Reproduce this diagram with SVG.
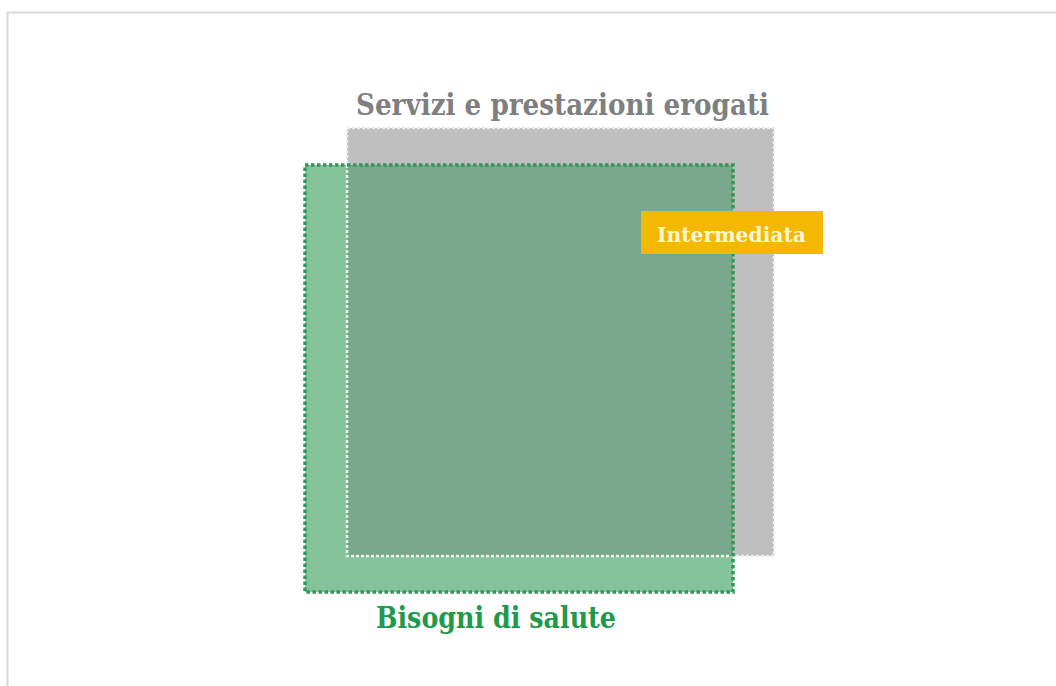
<svg xmlns="http://www.w3.org/2000/svg" width="1056" height="686" viewBox="0 0 1056 686">
<style>
.t{font-family:"DejaVu Serif","Liberation Serif",serif;font-weight:bold}
</style>
<rect x="0" y="0" width="1056" height="686" fill="#ffffff"/>
<path d="M7.5,686 V12.5 H1056" fill="none" stroke="#d9d9d9" stroke-width="2"/>
<g id="servizi">
<rect x="347" y="128" width="427" height="428" fill="#bfbfbf"/>
<text class="t" x="356" y="115" font-size="30" fill="#7f7f7f" textLength="413" lengthAdjust="spacingAndGlyphs">Servizi e prestazioni erogati</text>
</g>
<g id="bisogni">
<rect x="305" y="165" width="428" height="427" fill="#85c49b"/>
<rect x="347" y="165" width="386" height="391" fill="#7aa88c"/>
<text class="t" x="376" y="628" font-size="30" fill="#1f9a4c" textLength="240" lengthAdjust="spacingAndGlyphs">Bisogni di salute</text>
</g>
<g id="borders">
<rect x="347" y="128" width="427" height="428" fill="none" stroke="#eeeeee" stroke-width="2.5" stroke-dasharray="3 2"/>
<rect x="305" y="165" width="428" height="427" fill="none" stroke="#2e9a55" stroke-width="3.5" stroke-dasharray="3.5 2.5"/>
</g>
<g id="intermediata">
<rect x="641" y="211" width="182" height="43" fill="#f4b800"/>
<text class="t" x="657" y="242" font-size="21" fill="#fff4d6" textLength="149" lengthAdjust="spacingAndGlyphs">Intermediata</text>
</g>
</svg>
